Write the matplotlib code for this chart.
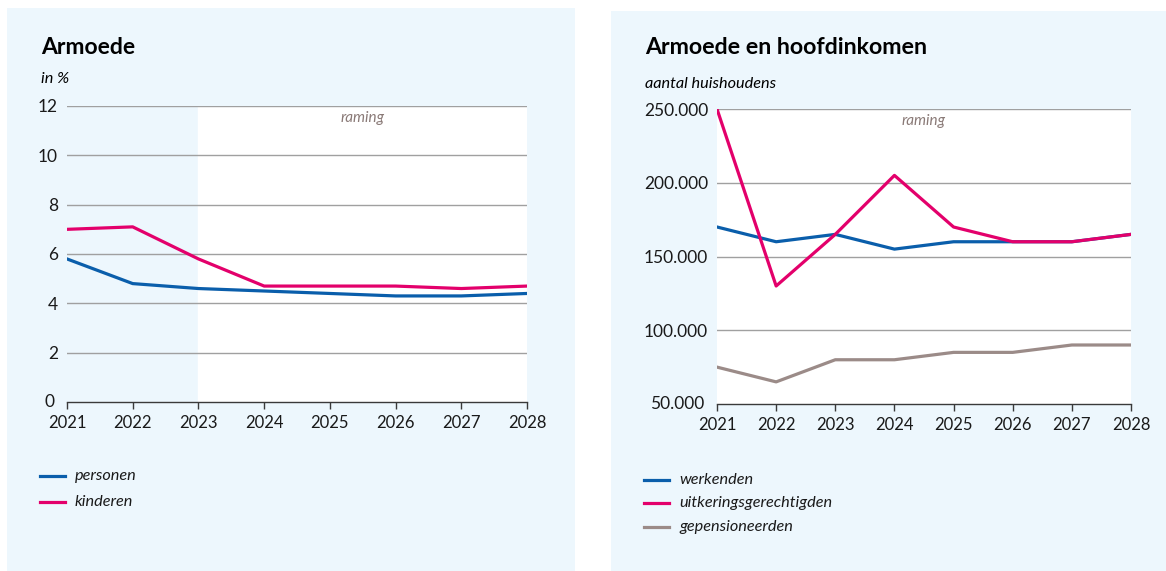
import matplotlib.pyplot as plt
from matplotlib.patches import Rectangle

plt.rcParams['font.family'] = ['Lato', 'DejaVu Sans']

years = [2021, 2022, 2023, 2024, 2025, 2026, 2027, 2028]

# links: armoede in %
personen = [5.8, 4.8, 4.6, 4.5, 4.4, 4.3, 4.3, 4.4]
kinderen = [7.0, 7.1, 5.8, 4.7, 4.7, 4.7, 4.6, 4.7]

# rechts: aantal huishoudens
werkenden = [170000, 160000, 165000, 155000, 160000, 160000, 160000, 165000]
uitkeringsgerechtigden = [250000, 130000, 165000, 205000, 170000, 160000, 160000, 165000]
gepensioneerden = [75000, 65000, 80000, 80000, 85000, 85000, 90000, 90000]

left_yticks = [0, 2, 4, 6, 8, 10, 12]
right_yticks = [50000, 100000, 150000, 200000, 250000]
raming_start = 2023

BG = '#edf7fd'
BLUE = '#0a5eab'
PINK = '#e3006b'
TAUPE = '#9b8b88'
GRID = '#a0a0a0'

W, H = 1166, 571
fig = plt.figure(figsize=(W / 100, H / 100), dpi=100)


def px(x0, y0, x1, y1):
    # pixel box (top-left origin) -> figure fraction rect
    return [x0 / W, 1 - y1 / H, (x1 - x0) / W, (y1 - y0) / H]


# panel backgrounds
for (x0, y0, x1, y1) in [(7, 8, 575, 571), (611, 11, 1166, 571)]:
    r = px(x0, y0, x1, y1)
    fig.patches.append(Rectangle((r[0], r[1]), r[2], r[3], transform=fig.transFigure,
                                 facecolor=BG, edgecolor='none', zorder=-5))


def style_axes(ax, yticks, ylabels):
    ax.set_xlim(years[0], years[-1])
    ax.set_ylim(yticks[0], yticks[-1])
    ax.set_yticks(yticks[1:])
    ax.set_yticklabels(ylabels[1:])
    ax.set_xticks(years)
    ax.set_xticklabels([str(y) for y in years])
    for s in ['top', 'right', 'left']:
        ax.spines[s].set_visible(False)
    ax.spines['bottom'].set_color('#3a3a3a')
    ax.spines['bottom'].set_linewidth(1.0)
    ax.tick_params(axis='y', length=0, pad=6.5, labelsize=12.5, labelcolor='#1a1a1a')
    ax.tick_params(axis='x', length=5, width=1, color='#3a3a3a', pad=4,
                   labelsize=12, labelcolor='#1a1a1a')
    ax.grid(axis='y', color=GRID, linewidth=1.0)
    ax.set_axisbelow(True)
    # zero / bottom label
    ax.annotate(ylabels[0], xy=(0, 0), xycoords='axes fraction', xytext=(-9, 0),
                textcoords='offset points', ha='right', va='center',
                fontsize=12.5, color='#1a1a1a')


# ---- left chart
ax1 = fig.add_axes(px(67, 106, 527, 402))
ax1.set_facecolor('none')
ax1.axvspan(raming_start, years[-1], color='white', zorder=0)
ax1.plot(years, personen, color=BLUE, lw=2.3, zorder=3)
ax1.plot(years, kinderen, color=PINK, lw=2.3, zorder=3)
style_axes(ax1, left_yticks, [str(v) for v in left_yticks])
ax1.text((raming_start + years[-1]) / 2, 11.8, 'raming', ha='center', va='top',
         fontsize=11, style='italic', color='#8a7a77')

fig.text(41 / W, 1 - 47 / H, 'Armoede', fontsize=16.5, fontweight='bold', va='center')
fig.text(41 / W, 1 - 79 / H, 'in %', fontsize=11.7, style='italic', va='center')

# ---- right chart
ax2 = fig.add_axes(px(717, 109, 1131, 404))
ax2.set_facecolor('white')
ax2.plot(years, gepensioneerden, color=TAUPE, lw=2.3, zorder=3)
ax2.plot(years, werkenden, color=BLUE, lw=2.3, zorder=3)
ax2.plot(years, uitkeringsgerechtigden, color=PINK, lw=2.3, zorder=4)
style_axes(ax2, right_yticks, [f'{v:,}'.replace(',', '.') for v in right_yticks])
ax2.text(2024.5, 246500, 'raming', ha='center', va='top',
         fontsize=11, style='italic', color='#8a7a77')

fig.text(645 / W, 1 - 48 / H, 'Armoede en hoofdinkomen', fontsize=16.7, fontweight='bold', va='center')
fig.text(645 / W, 1 - 84 / H, 'aantal huishoudens', fontsize=11.7, style='italic', va='center')

# ---- legends
def legend(x, ys, labels, colors):
    for y, lab, c in zip(ys, labels, colors):
        fig.add_artist(plt.Line2D([x / W, (x + 25) / W], [1 - y / H, 1 - y / H],
                                  color=c, lw=2.3, transform=fig.transFigure))
        fig.text((x + 35) / W, 1 - y / H, lab, fontsize=11.7, style='italic',
                 va='center', color='#1a1a1a')


legend(40, [476, 502], ['personen', 'kinderen'], [BLUE, PINK])
legend(644, [480, 503, 527], ['werkenden', 'uitkeringsgerechtigden', 'gepensioneerden'],
       [BLUE, PINK, TAUPE])

fig.savefig('out.png', dpi=100, facecolor='white')
